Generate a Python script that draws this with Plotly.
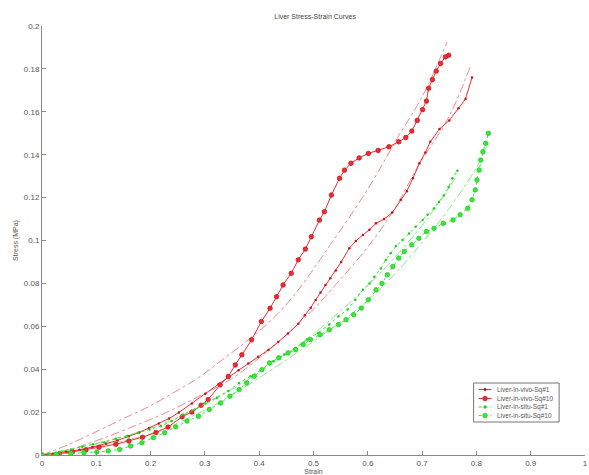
import plotly.graph_objects as go

# ---- data ----
vivo1_x = [0, 0.02, 0.044, 0.069, 0.093, 0.118, 0.139, 0.160, 0.179, 0.197, 0.215, 0.234, 0.252, 0.276,
           0.301, 0.325, 0.343, 0.362, 0.380, 0.398, 0.417, 0.435, 0.453, 0.472, 0.484, 0.495, 0.504,
           0.513, 0.522, 0.531, 0.541, 0.551, 0.566, 0.578, 0.591, 0.603, 0.615, 0.630, 0.645, 0.661,
           0.672, 0.683, 0.695, 0.706, 0.715, 0.732, 0.750, 0.767, 0.780, 0.792]
vivo1_y = [0, 0.0006, 0.0014, 0.0024, 0.0037, 0.0053, 0.0068, 0.0087, 0.0105, 0.0126, 0.0147, 0.0170,
           0.0198, 0.0240, 0.0285, 0.0330, 0.0362, 0.0395, 0.0426, 0.0458, 0.0490, 0.0527, 0.0566,
           0.0612, 0.0652, 0.0687, 0.0723, 0.0757, 0.0793, 0.0824, 0.0860, 0.0900, 0.0964, 0.0998,
           0.1026, 0.1050, 0.1080, 0.1100, 0.1130, 0.1190, 0.1230, 0.1290, 0.1360, 0.1410, 0.1460,
           0.1520, 0.1560, 0.1616, 0.1660, 0.1760]

vivo10_x = [0, 0.032, 0.056, 0.081, 0.105, 0.136, 0.160, 0.185, 0.210, 0.232, 0.258, 0.276, 0.293,
            0.306, 0.328, 0.343, 0.356, 0.368, 0.386, 0.404, 0.420, 0.432, 0.444, 0.459, 0.472, 0.485,
            0.496, 0.511, 0.520, 0.533, 0.548, 0.557, 0.569, 0.584, 0.601, 0.619, 0.639, 0.657, 0.670,
            0.681, 0.691, 0.701, 0.708, 0.712, 0.719, 0.726, 0.734, 0.743, 0.749]
vivo10_y = [0, 0.0006, 0.0015, 0.0024, 0.0036, 0.0050, 0.0065, 0.0083, 0.0105, 0.0130, 0.0178, 0.0200,
            0.0232, 0.0259, 0.0327, 0.0366, 0.0420, 0.0467, 0.0537, 0.0622, 0.0684, 0.0738, 0.0793,
            0.0847, 0.0910, 0.0960, 0.1018, 0.1095, 0.1134, 0.1212, 0.1290, 0.1328, 0.1360, 0.1385,
            0.1406, 0.1420, 0.1437, 0.1460, 0.1480, 0.1510, 0.1560, 0.1610, 0.1650, 0.1710, 0.1750,
            0.1790, 0.1825, 0.1856, 0.1864]

situ1_x = [0, 0.012, 0.032, 0.053, 0.074, 0.094, 0.115, 0.136, 0.157, 0.177, 0.198, 0.219, 0.239, 0.260,
           0.281, 0.301, 0.322, 0.343, 0.363, 0.384, 0.405, 0.426, 0.446, 0.467, 0.488, 0.508, 0.529,
           0.546, 0.563, 0.577, 0.591, 0.603, 0.612, 0.624, 0.633, 0.642, 0.652, 0.664, 0.676, 0.688,
           0.701, 0.710, 0.722, 0.731, 0.740, 0.749, 0.756, 0.765]
situ1_y = [0, 0.0006, 0.0014, 0.0026, 0.0039, 0.0050, 0.0060, 0.0076, 0.0088, 0.0104, 0.0119, 0.0135,
           0.0158, 0.0189, 0.0212, 0.0240, 0.0267, 0.0298, 0.0336, 0.0367, 0.0398, 0.0437, 0.0468,
           0.0499, 0.0538, 0.0569, 0.0608, 0.0647, 0.0678, 0.0724, 0.0770, 0.0800, 0.0831, 0.0870,
           0.0909, 0.0940, 0.0974, 0.1002, 0.1033, 0.1064, 0.1095, 0.1120, 0.1150, 0.1180, 0.1210,
           0.1250, 0.1290, 0.1325]

situ10_x = [0, 0.026, 0.053, 0.077, 0.101, 0.122, 0.143, 0.163, 0.184, 0.205, 0.226, 0.246, 0.267, 0.288,
            0.308, 0.329, 0.346, 0.363, 0.377, 0.391, 0.405, 0.419, 0.436, 0.453, 0.467, 0.481, 0.494,
            0.512, 0.529, 0.546, 0.560, 0.574, 0.588, 0.601, 0.615, 0.626, 0.636, 0.646, 0.657, 0.667,
            0.681, 0.694, 0.708, 0.722, 0.739, 0.757, 0.770, 0.784, 0.792, 0.798, 0.801, 0.805, 0.808,
            0.812, 0.817, 0.822]
situ10_y = [0, 0.0003, 0.0008, 0.0011, 0.0014, 0.0019, 0.0026, 0.0042, 0.0057, 0.0081, 0.0104, 0.0132,
            0.0158, 0.0181, 0.0212, 0.0243, 0.0274, 0.0305, 0.0336, 0.0367, 0.0398, 0.0429, 0.0453,
            0.0476, 0.0491, 0.0515, 0.0538, 0.0561, 0.0584, 0.0608, 0.0631, 0.0654, 0.0685, 0.0724,
            0.0770, 0.0800, 0.0840, 0.0879, 0.0918, 0.0949, 0.0980, 0.1010, 0.1042, 0.1057, 0.1080,
            0.1096, 0.1120, 0.1150, 0.1190, 0.1236, 0.1282, 0.1329, 0.1375, 0.1414, 0.1453, 0.1500]

# fitted curves (dash-dot)
fit_vivo10_x = [0, 0.05, 0.105, 0.150, 0.197, 0.252, 0.288, 0.330, 0.380, 0.435, 0.472, 0.531, 0.600,
                0.655, 0.700, 0.746]
fit_vivo10_y = [0, 0.0050, 0.0115, 0.0170, 0.0226, 0.0305, 0.0360, 0.0440, 0.0537, 0.0660, 0.0770,
                0.0980, 0.1240, 0.1480, 0.1670, 0.1925]
fit_vivo1_x = [0, 0.05, 0.105, 0.160, 0.227, 0.288, 0.349, 0.411, 0.450, 0.500, 0.550, 0.600, 0.650,
               0.691, 0.750, 0.790]
fit_vivo1_y = [0, 0.0025, 0.0071, 0.0125, 0.0196, 0.0273, 0.0355, 0.0475, 0.0560, 0.0680, 0.0820,
               0.0970, 0.1150, 0.1340, 0.1580, 0.1820]
fit_situ1_x = [0, 0.10, 0.20, 0.30, 0.40, 0.50, 0.60, 0.70, 0.766]
fit_situ1_y = [0, 0.0055, 0.0125, 0.0235, 0.0385, 0.0565, 0.0790, 0.1070, 0.1310]
fit_situ10_x = [0, 0.10, 0.20, 0.30, 0.40, 0.50, 0.55, 0.60, 0.65, 0.70, 0.75, 0.80, 0.822]
fit_situ10_y = [0, 0.0040, 0.0100, 0.0210, 0.0360, 0.0530, 0.0620, 0.0720, 0.0845, 0.0990, 0.1150,
                0.1340, 0.1460]

names = ["Liver-in-vivo-Sq#1", "Liver-in-vivo-Sq#10", "Liver-in-situ-Sq#1", "Liver-in-situ-Sq#10"]

RED = "#ee2d32"
RED_DARK = "#c4141c"
GREEN = "#3ae63a"
GREEN_DARK = "#22cc22"
RED_FIT = "#f08a92"
GREEN_FIT = "#8aea8a"
FONT = "Liberation Sans, Arial, sans-serif"

fig = go.Figure()

# fits first (under the data)
for fx, fy, c in [(fit_vivo10_x, fit_vivo10_y, RED_FIT), (fit_vivo1_x, fit_vivo1_y, RED_FIT),
                  (fit_situ1_x, fit_situ1_y, GREEN_FIT), (fit_situ10_x, fit_situ10_y, GREEN_FIT)]:
    fig.add_trace(go.Scatter(x=fx, y=fy, mode="lines", showlegend=False, hoverinfo="skip",
                             line=dict(color=c, width=1, dash="dashdot"), line_shape="spline"))

series = [
    (vivo1_x, vivo1_y, RED, RED_DARK, 2.5, "solid"),
    (vivo10_x, vivo10_y, RED, RED_DARK, 4.5, "solid"),
    (situ1_x, situ1_y, GREEN, GREEN_DARK, 2.5, "dot"),
    (situ10_x, situ10_y, GREEN, GREEN_DARK, 4.5, "dot"),
]
for (sx, sy, c, cd, ms, dash), nm in zip(series, names):
    fig.add_trace(go.Scatter(x=sx, y=sy, mode="lines+markers", name=nm, showlegend=False,
                             line=dict(color=c, width=1, dash=dash),
                             marker=dict(symbol="circle", size=ms, color=c if ms > 3 else cd,
                                         line=dict(color=cd, width=0.8 if ms > 3 else 0))))

# ---- compact legend box (MATLAB style), built in paper coordinates ----
L = 42.0
W = 546.0
T = 26.0
H = 429.0


def px2paper(px, py):
    return (px - L) / W, (T + H - py) / H


shapes = []
annotations = []
bx0, by0 = px2paper(476, 383)
bx1, by1 = px2paper(562, 422)
shapes.append(dict(type="rect", xref="paper", yref="paper", x0=bx0, y0=by1, x1=bx1, y1=by0,
                   line=dict(color="#777777", width=1), fillcolor="white", layer="above"))
rows = [389.5, 398.5, 407.0, 415.5]
for (sx, sy, c, cd, ms, dash), nm, ry in zip(series, names, rows):
    x0, yy = px2paper(481, ry)
    x1, _ = px2paper(494, ry)
    shapes.append(dict(type="line", xref="paper", yref="paper", x0=x0, x1=x1, y0=yy, y1=yy,
                       line=dict(color=c, width=1, dash="dot" if dash == "dot" else "solid"),
                       layer="above"))
    r = ms / 2.0
    cx, cy = px2paper(487.5, ry)
    shapes.append(dict(type="circle", xref="paper", yref="paper",
                       x0=cx - r / W, x1=cx + r / W, y0=cy - r / H, y1=cy + r / H,
                       fillcolor=c if ms > 3 else cd, line=dict(color=cd, width=0.8), layer="above"))
    tx, ty = px2paper(497, ry)
    annotations.append(dict(text=nm, xref="paper", yref="paper", x=tx, y=ty, xanchor="left",
                            yanchor="middle", showarrow=False,
                            font=dict(family=FONT, size=6.5, color="#555555")))

AX = dict(showgrid=False, zeroline=False, showline=True, linecolor="#8a8a8a", linewidth=1,
          ticks="inside", ticklen=4, tickcolor="#8a8a8a",
          tickfont=dict(family=FONT, size=8, color="#555555"))

fig.update_layout(
    width=589, height=475,
    margin=dict(l=42, r=1, t=26, b=20),
    paper_bgcolor="white", plot_bgcolor="white",
    title=dict(text="Liver Stress-Strain Curves", x=0.535, xanchor="center", y=0.965, yanchor="middle",
               font=dict(family=FONT, size=7, color="#444444")),
    xaxis=dict(range=[0, 1], tickvals=[0, 0.1, 0.2, 0.3, 0.4, 0.5, 0.6, 0.7, 0.8, 0.9, 1],
               ticktext=["0", "0.1", "0.2", "0.3", "0.4", "0.5", "0.6", "0.7", "0.8", "0.9", "1"],
               ticklabeloverflow="allow",
               title=dict(text="Strain", standoff=0, font=dict(family=FONT, size=7, color="#555555")),
               **AX),
    yaxis=dict(range=[0, 0.2], tickvals=[0, 0.02, 0.04, 0.06, 0.08, 0.1, 0.12, 0.14, 0.16, 0.18, 0.2],
               ticktext=["0", "0.02", "0.04", "0.06", "0.08", "0.1", "0.12", "0.14", "0.16", "0.18", "0.2"],
               title=dict(text="Stress (MPa)", standoff=4, font=dict(family=FONT, size=7, color="#555555")),
               **AX),
    shapes=shapes,
    annotations=annotations,
    showlegend=False,
)

fig.write_html("out.html")
